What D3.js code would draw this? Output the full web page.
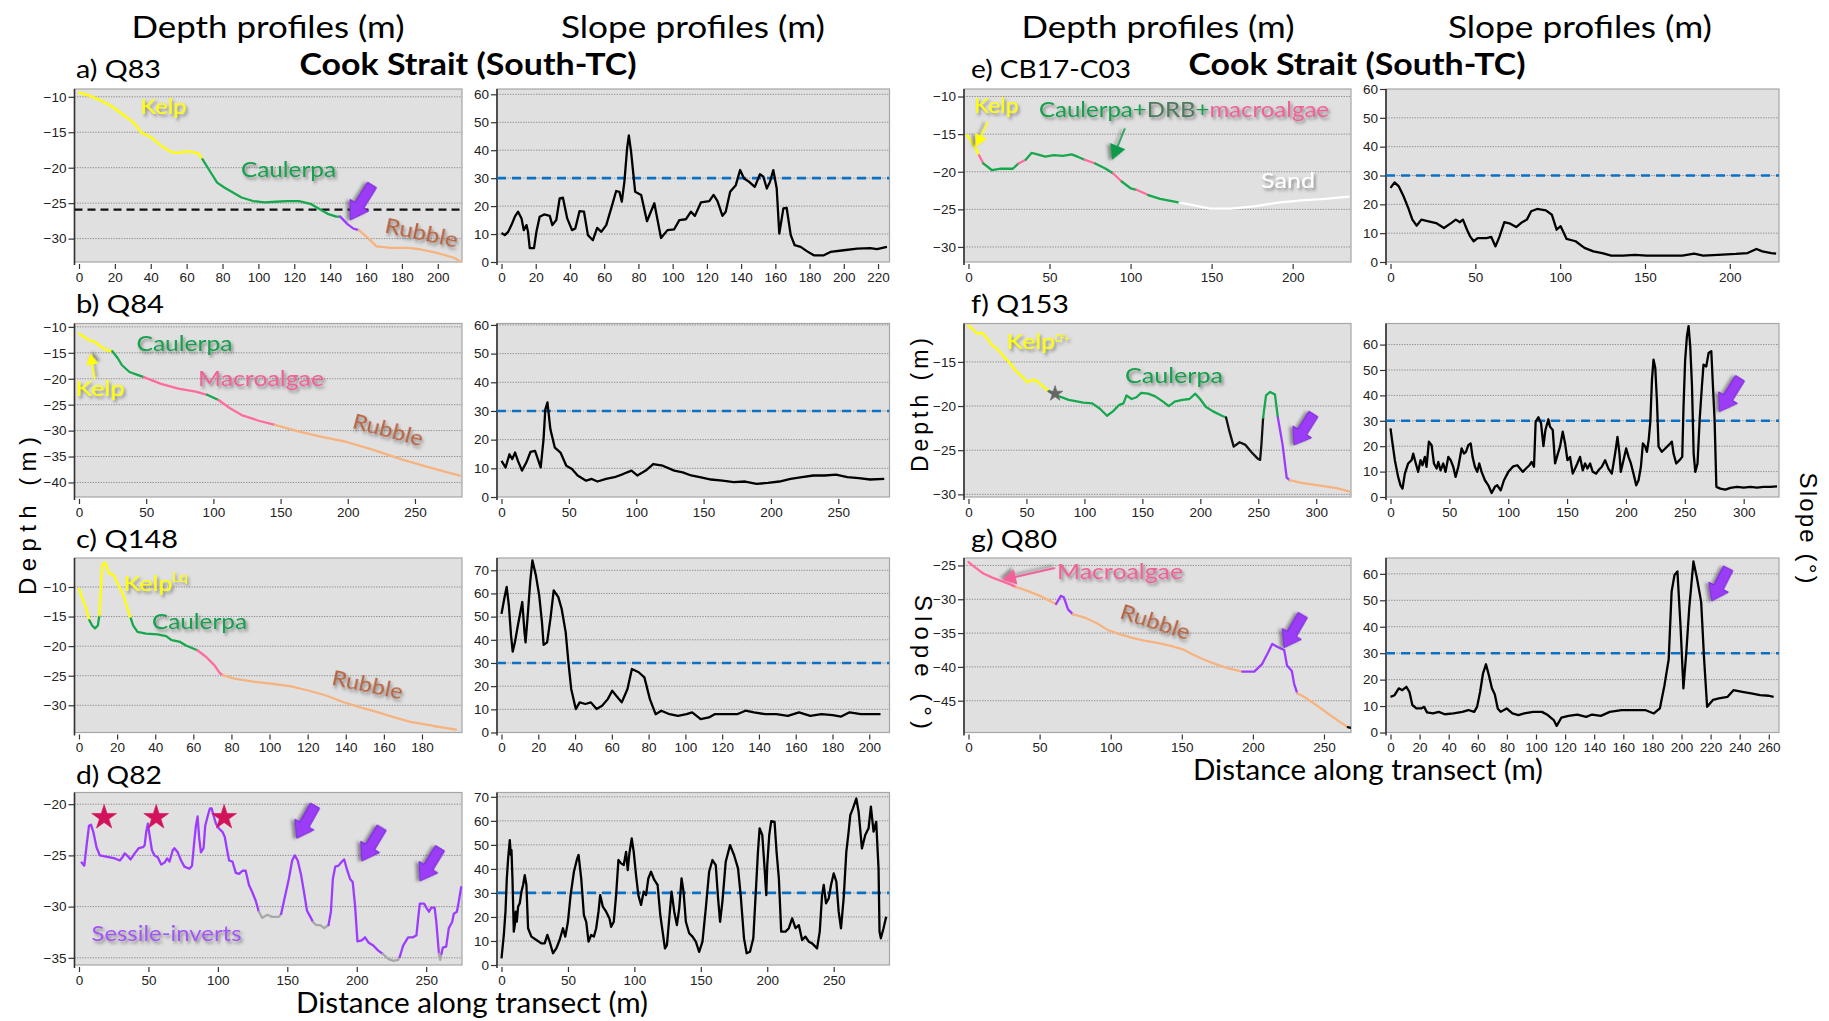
<!DOCTYPE html>
<html>
<head>
<meta charset="utf-8">
<script src="https://cdn.jsdelivr.net/npm/d3@7"></script>
<style>
  html, body { margin: 0; padding: 0; background: #ffffff; }
  svg { display: block; }
</style>
</head>
<body>
<svg id="chart" width="1829" height="1021"></svg>
<script>
// ===================== Depth profiles (distance m, depth m) =====================
// a) Q83
const a_kelp = [[0,-9.4],[4,-9.7],[7.4,-10],[12,-10.5],[18.6,-11.4],[25,-12.6],[29.8,-13.5],[32.3,-14.2],[34.6,-15],[40,-15.7],[45.8,-16.9],[50.6,-17.7],[53.8,-17.9],[58,-17.8],[61.8,-17.7],[66.6,-18],[68.8,-18.8]];
const a_caulerpa = [[68.8,-18.8],[73,-20.5],[77,-22.1],[81,-22.8],[85.8,-23.5],[90.6,-24.2],[97,-24.7],[103.4,-24.9],[109.8,-24.8],[116,-24.7],[122.6,-24.7],[129,-25.1],[133.8,-25.8],[138.6,-26.5],[143.4,-26.9],[145.6,-26.9]];
const a_inverts = [[145.6,-26.9],[149.8,-28],[153,-28.6],[156,-28.8]];
const a_rubble = [[156,-28.8],[161,-29.9],[165.8,-31.1],[173.8,-31.3],[183.4,-31.3],[189.8,-31.5],[199.4,-32],[209,-32.7],[213.8,-33.4]];
const a_threshold = -25.9;

// b) Q84
const b_kelp = [[0,-11.3],[3.4,-11.9],[7.7,-12.6],[12,-12.9],[16.2,-13.8],[20.5,-14.5],[24.8,-14.7]];
const b_caulerpa1 = [[24.8,-14.7],[29,-16.1],[32,-17.4],[37.6,-18.7],[44,-19.3],[48.3,-19.7]];
const b_macro1 = [[48.3,-19.7],[61,-21],[74,-21.9],[86.8,-22.5],[95.3,-23.1]];
const b_caulerpa2 = [[95.3,-23.1],[103.8,-24.1]];
const b_macro2 = [[103.8,-24.1],[112.4,-25.7],[121,-27],[133.8,-28.1],[145.7,-28.9]];
const b_rubble = [[145.7,-28.9],[163.7,-30.2],[180.8,-31.2],[197.9,-32.1],[219,-33.7],[240.6,-35.6],[261.9,-37.2],[283.3,-38.7]];

// c) Q148
const c_kelp1 = [[0,-10.3],[1.5,-11.7],[3.9,-13.7],[5.4,-15.6]];
const c_caulerpa1 = [[5.4,-15.6],[6.9,-16.5],[8.4,-17],[9.9,-16.5],[10.7,-14.8]];
const c_kelp2 = [[10.7,-14.8],[12.2,-6.3],[13.7,-5.9],[15.8,-7.7],[18.2,-8],[20.3,-9.4],[23.3,-11.4],[25.4,-13.6],[27.2,-15.3]];
const c_caulerpa2 = [[27.2,-15.3],[28.4,-16.5],[30.7,-17.6],[35.2,-17.9],[41.2,-18],[45.7,-18.3],[48.7,-19],[53.1,-19.3],[56.1,-19.9],[62.1,-20.7]];
const c_macro = [[62.1,-20.7],[66.6,-21.8],[71,-23.2],[74,-24.6],[75.5,-24.9]];
const c_rubble = [[75.5,-24.9],[81.5,-25.5],[87.5,-25.8],[93.4,-26.1],[102.4,-26.4],[111.3,-26.8],[120.3,-27.5],[129.3,-28.3],[138.2,-29.4],[147.2,-30.3],[156.1,-31.1],[165.1,-32],[174,-32.8],[186,-33.5],[197.9,-34.1]];

// d) Q82
const d_inv1 = [[1.9,-25.7],[3.8,-26],[5.5,-24],[7.2,-22.1],[8.6,-22],[10.3,-22.7],[12.6,-24.2],[15,-25],[18.6,-25.1],[22.2,-25.2],[25.8,-25.3],[29.4,-25.5],[31.7,-25.1],[32.9,-24.8],[35.3,-25.1],[37.2,-25.4],[40.1,-24.8],[43,-24.3],[46.1,-24.2],[47.3,-24],[48.4,-22.7],[49.6,-21.9],[50.8,-23],[52.5,-24.5],[54.4,-25],[56.8,-25.2],[59.2,-25.9],[61.6,-25.7],[63.5,-25.3],[65.2,-25.6],[67.5,-24.5],[68.7,-24.3],[71.1,-24.7],[73.5,-25.5],[75.9,-26.1],[79.5,-26.3],[81.4,-26],[83.1,-23.5],[84.2,-22.1],[85.4,-21.2],[86.6,-23.4],[87.8,-24.7],[89.7,-24.3],[90.9,-22.1],[92.6,-21.2],[94.3,-20.4],[95.5,-20.4],[96.9,-21.1],[98.6,-21.9],[101,-22.4],[103.3,-22.7],[105,-23.2],[106.4,-24.3],[108.1,-25.5],[110.5,-25.6],[112.9,-26.7],[115.3,-26.8],[117.7,-26.5],[120,-26.5],[122.4,-27.9],[124.8,-28.6],[127.2,-29.4],[129.5,-30.5]];
const d_bare1 = [[129.5,-30.5],[132,-31.1],[135.6,-30.8],[139.1,-31],[143.9,-31],[145.6,-30.7]];
const d_inv2 = [[145.6,-30.7],[148,-29.2],[151.1,-27.3],[153.5,-25.5],[155.4,-25],[157.5,-25.5],[159.9,-26.9],[161.8,-28.4],[164.2,-30.4],[166.6,-31],[168.5,-31.5]];
const d_bare2 = [[168.5,-31.5],[170.9,-31.8],[173.7,-31.8],[176.6,-32.1],[179.7,-31.8]];
const d_inv3 = [[179.7,-31.8],[181.4,-30.5],[182.8,-27.3],[184.5,-26.1],[186.9,-26],[189.3,-25.6],[191,-25.4],[192.8,-26.3],[195.2,-27.3],[197.1,-27.6],[198.8,-29.9],[200.5,-33.4],[203.6,-33.3],[206,-33],[208.4,-33.5],[211.9,-33.8],[215.5,-34.3],[218.6,-34.6]];
const d_bare3 = [[218.6,-34.6],[222.7,-35.1],[226.3,-35.3],[229.8,-35.2],[231,-34.9]];
const d_inv4 = [[231,-34.9],[233.4,-33.8],[237,-33],[240.6,-33],[243,-32.8],[244.2,-31.2],[245.4,-29.7],[248.5,-29.7],[250.1,-30.1],[252,-30.5],[253.7,-30.1],[256.1,-30.1],[257.3,-31.5],[259.2,-34.6]];
const d_bare4 = [[259.2,-34.6],[260.1,-35.2],[261,-34.6]];
const d_inv5 = [[261,-34.6],[262,-34],[264.4,-33.9],[266.3,-32.1],[268.7,-31.5],[269.9,-30.7],[272.1,-30.5],[273.5,-29.5],[275.2,-28.1]];
const d_stars = [[18.1,-21.3],[55.6,-21.3],[104.5,-21.3]];

// e) CB17-C03
const e_kelp = [[-1.1,-15.1],[2.5,-16.2],[5.5,-17.3],[6.5,-17.8]];
const e_macro1 = [[6.5,-17.8],[9.1,-18.9]];
const e_caulerpa1 = [[9.1,-18.9],[14.5,-19.8],[20,-19.6],[27.3,-19.6],[30.9,-18.9]];
const e_macro2 = [[30.9,-18.9],[35.3,-18.4]];
const e_caulerpa2 = [[35.3,-18.4],[38.9,-17.5],[42.5,-17.7],[47.3,-18],[52.7,-17.8],[58.2,-17.9],[63.6,-17.7],[67.3,-18],[71.6,-18.4]];
const e_macro3 = [[71.6,-18.4],[78.2,-18.9]];
const e_caulerpa3 = [[78.2,-18.9],[84.7,-19.6],[89.1,-20.2]];
const e_macro4 = [[89.1,-20.2],[94.5,-21.3]];
const e_caulerpa4 = [[94.5,-21.3],[100,-22.2],[103.6,-22.4]];
const e_macro5 = [[103.6,-22.4],[110.9,-23.1]];
const e_caulerpa5 = [[110.9,-23.1],[118.2,-23.6],[125.5,-23.9],[130.2,-24.1]];
const e_sand = [[130.2,-24.1],[140,-24.5],[149.1,-24.9],[161.8,-24.9],[176.4,-24.6],[190.9,-24.1],[205.5,-23.8],[220,-23.6],[234.5,-23.3]];

// f) Q153
const f_kelp = [[0,-10.9],[3.6,-11.3],[7.6,-11.8],[11.7,-11.7],[15.3,-12.2],[20.3,-13.1],[25.4,-13.6],[30.5,-14.4],[35.6,-15.1],[40.7,-16],[45.8,-16.6],[50.8,-17.3],[55.9,-17],[59.5,-17.2],[63.5,-17.7],[69.6,-18.3]];
const f_caulerpa1 = [[69.6,-18.3],[76.3,-18.8],[86.4,-19.3],[99.1,-19.6],[106.8,-19.7],[113.4,-20.3],[119.5,-21.1],[124.6,-20.6],[129.7,-19.9],[133.7,-19.7],[136.3,-18.8],[140.8,-19.2],[144.9,-19],[149,-18.5],[155,-18.6],[161.1,-18.9],[167.8,-19.5],[172.8,-20],[177.9,-19.5],[184.5,-19.3],[190.6,-19.2],[195.7,-18.6],[199.8,-19.2],[204.9,-20.1],[211,-20.6],[218.6,-21.1],[222.2,-21.3]];
const f_unclassed = [[222.2,-21.3],[225.2,-22.9],[228.8,-24.6],[233.9,-24.1],[239,-24.4],[244,-25.2],[249.1,-25.9],[251.6,-26.1],[252.7,-24.4],[254.2,-21.3]];
const f_caulerpa2 = [[254.2,-21.3],[256.7,-18.8],[260.3,-18.4],[264.4,-18.7],[266.9,-21.3]];
const f_inverts = [[266.9,-21.3],[271,-24.4],[274.5,-28.1],[277.1,-28.4]];
const f_rubble = [[277.1,-28.4],[287.2,-28.7],[297.4,-28.9],[307.6,-29.1],[317.7,-29.3],[328.9,-29.7]];
const f_star = [[74.7,-18.6]];

// g) Q80
const g_macro = [[0,-24.5],[4.2,-25.2],[10.5,-26.2],[16.8,-26.8],[23,-27.3],[29.3,-27.8],[33.5,-28.2]];
const g_rubble1 = [[33.5,-28.2],[41.9,-28.8],[50.3,-29.5],[58.6,-30.4],[61.6,-30.7]];
const g_inverts1 = [[61.6,-30.7],[64.9,-29.5],[67,-29.7],[70,-31.5],[73.3,-32.2]];
const g_rubble2 = [[73.3,-32.2],[81.7,-32.7],[90,-33.5],[98.4,-34.6],[106.8,-35.2],[115.2,-35.7],[123.5,-36.1],[131.9,-36.4],[142.4,-36.9],[150.8,-37.4],[157,-38.1],[165.4,-38.9],[173.8,-39.6],[182.2,-40.2],[192.6,-40.7]];
const g_inverts2 = [[192.6,-40.7],[201,-40.7],[206.4,-39.6],[210.6,-37.9],[213.6,-36.6],[217.8,-37.1],[222,-37.5],[224,-39.8],[227.4,-40.6],[229,-42.5],[231.2,-43.9]];
const g_rubble3 = [[231.2,-43.9],[236.6,-44.5],[245,-45.7],[253.4,-47],[261.7,-48.2],[266.8,-48.9]];
const g_unclassed = [[266.8,-48.9],[268.8,-49]];

// ===================== Slope profiles (distance m, slope deg) =====================
const a_slope = [[0,10.4],[1.9,9.6],[3.9,10.8],[5.8,13.2],[7.8,16.2],[9.7,18],[11.7,15.6],[13,11.4],[14.6,13.2],[15.5,10.8],[16.5,5],[19,5],[20.4,10.8],[22.3,16.2],[24.9,17],[28.2,16.5],[29.7,13.2],[32,15],[34,22.8],[35.9,23],[38.4,15.6],[41.2,11.4],[43.1,12],[45.6,18.2],[48.2,18],[50.5,9.6],[53.4,7.8],[55.9,12.2],[58.3,10.8],[61.2,13.2],[64.1,19.2],[67,25.4],[68.9,25.1],[70.3,21.6],[71.8,28.7],[73.4,40.7],[74.4,45.3],[75.7,39.5],[78.1,25.1],[81.6,24],[85,14.6],[89.3,21],[93.2,8.6],[97,11.4],[100.9,11.7],[103.9,15],[107.8,15.3],[110.7,18],[113,16.5],[116.5,21.3],[121.4,21.8],[123.9,24],[126.2,21.8],[129.1,16.5],[131,18],[133.6,25.1],[136.9,27.5],[139.4,32.9],[141.7,29.9],[144.7,28.7],[148,26.9],[151,31.4],[153,30.5],[155,26.3],[156.9,28.7],[158.8,32.9],[160.8,26.3],[162.3,10.2],[164.7,19.2],[166.6,19.4],[169,9.6],[171.3,6],[174.8,5.4],[178.6,3.8],[182.5,2.4],[188.3,2.4],[192.2,3.6],[200,4.2],[207.8,4.8],[215.5,5],[219.4,4.6],[225.2,5.4]];
const b_slope = [[0,12.6],[3,10.3],[5.9,14.9],[8,13.2],[10.1,15.5],[12.2,12.6],[15.2,9.2],[18.5,12.1],[21.5,15.7],[24.9,16.1],[27,13.2],[29.1,10.3],[31.2,20.1],[32.5,30.5],[34.1,33],[36.3,23.6],[39.6,17.2],[43.8,15.5],[48.1,10.9],[52.3,9.8],[56.5,7.5],[62.8,5.7],[67,6.3],[71.2,5.4],[77.6,6.3],[83.9,6.9],[90.2,8],[96.5,9.2],[100.8,7.5],[107.1,9.2],[112.6,11.5],[119.7,10.9],[128.2,9.2],[134.5,8.6],[140.8,7.5],[147.1,6.9],[155.6,6.1],[164,5.7],[172.4,5.2],[180.9,5.4],[189.3,4.6],[197.7,4.9],[206.2,5.4],[214.6,6.3],[223,6.9],[231.5,7.5],[239.9,7.5],[248.3,7.8],[256.7,6.9],[265.2,6.6],[273.6,6.1],[284.1,6.3]];
const c_slope = [[0,51.2],[1.5,57.7],[2.8,62.8],[4,54.8],[5.2,41.8],[6.1,34.9],[7.3,38.9],[8.9,46.2],[11.3,56.3],[12.5,43.3],[13.1,38.9],[14.4,51.9],[15.6,64.9],[16.8,74.3],[18.7,67.8],[20.5,59.2],[22,47.6],[22.9,37.8],[24.8,38.9],[26.6,49],[28.4,61.3],[30.9,58.4],[32.7,53.4],[34.9,43.3],[36.4,30.3],[37.9,18.8],[40.4,10.1],[42.5,13],[45.6,12.3],[48.6,13],[51.7,10.1],[54.7,11.5],[57.8,14.4],[60.2,18],[62.4,15.9],[65.4,13],[68.5,18.8],[70.9,27.4],[74.6,26],[77.7,23.8],[80.7,14.4],[83.8,7.9],[86.9,9.4],[91.4,7.9],[96,7.2],[100.6,7.9],[103.7,8.7],[108.3,5.8],[112.8,6.5],[115.9,7.9],[122,7.9],[128.1,7.9],[132.7,9.4],[137.3,8.7],[143.4,7.9],[149.5,7.9],[155.7,7.2],[161.8,8.7],[167.9,7.2],[174,7.9],[180.1,7.5],[184.7,6.9],[189.3,8.7],[195.4,7.9],[206.1,7.9]];
const d_slope = [[0,2.8],[0.75,6.9],[1.75,12.5],[3,22.2],[4,36],[5,44.4],[6.25,52],[7,45.8],[7.5,47.8],[8.25,36],[9.25,13.9],[10,16.6],[10.75,22.2],[11.5,18],[12.5,24.3],[13.75,25.7],[15,30.5],[16.25,33.3],[17.5,37.4],[18.75,33.3],[20,15.3],[22.5,11.8],[26.25,10.4],[30,9],[32.5,9],[34.5,12.5],[36.25,9.7],[38.75,4.9],[41.25,6.9],[43.75,10.4],[46.25,15.3],[48,11.8],[50,18],[52,29.1],[54.5,38.8],[57,44.4],[58,45.8],[60,36],[62,20.8],[63.75,18],[65.5,9.7],[67.5,12.5],[69.5,11.8],[71.25,15.3],[73,22.2],[74.25,29.1],[76.25,24.3],[78.75,22.2],[81.25,19.4],[82.5,15.9],[84.5,18],[86.25,29.1],[88,43.7],[90,42.3],[92,41.6],[93.75,47.1],[95,39.5],[96.25,46.5],[98,52.7],[99.5,47.1],[101.25,37.4],[103,29.1],[105,25],[107,30.5],[108.75,29.1],[110.5,36],[112.5,38.8],[115,35.4],[117.5,33.3],[119.5,20.8],[121.25,13.9],[123,6.9],[124.5,8.3],[126.25,19.4],[128,30.5],[130,22.2],[132,16.6],[133.75,23.6],[135.5,36],[137,30.5],[138.75,18],[141.25,13.2],[143.75,11.8],[146.25,9.7],[148.75,5.5],[151.25,9.7],[153.75,23.6],[156.25,38.8],[158.75,43.7],[161.25,41.6],[163,27.7],[164.5,18],[166.25,26.4],[168.75,43],[172,49.9],[175,45.8],[178,40.2],[180,29.1],[182.5,11.1],[184.5,4.9],[187,5.5],[189.5,11.1],[191.25,29.1],[193,47.1],[194.25,56.9],[196.25,54.1],[198,40.2],[199.25,29.1],[200,41.6],[201.5,54.1],[203,59.9],[205.5,59.6],[207,47.1],[208.75,36],[210.5,13.9],[213.75,13.9],[216.25,15.3],[218.75,19.4],[221.25,15.3],[223.75,16.6],[226.25,10.4],[228.75,11.8],[231.25,9.7],[233.75,9],[237.5,6.9],[239.5,13.9],[241.25,29.1],[242.5,33.3],[244.25,25.7],[246.25,27.7],[248,33.3],[250,38.1],[252,34.7],[253.75,22.2],[255.5,15.3],[257.5,27.7],[259.5,47.1],[261.25,55.5],[262.5,62.4],[264.5,65.2],[267,69.3],[268.75,63.8],[271.25,48.5],[273.75,54.1],[276.25,56.9],[278,65.9],[280,55.5],[282,59.6],[283.75,40.2],[284.5,13.9],[285.5,11.1],[287.5,15.3],[289.5,20.1]];
const e_slope = [[0,25.7],[2.4,27.6],[4.9,26.2],[7.7,22.8],[10.5,18.7],[12.9,14.7],[15.4,12.6],[18.2,14.7],[22.4,14.1],[26.9,13.5],[31.5,11.8],[35.7,13.5],[38.5,14.7],[40.9,13.8],[42.7,14.7],[45.1,11.2],[46.9,8.9],[49,7.2],[51.4,8.3],[56.6,8.3],[59.4,8.7],[61.9,5.4],[64.3,8.9],[67.1,13.8],[70.6,13.3],[74.1,12.1],[77.6,13.8],[80.4,14.7],[82.9,17.6],[86.4,18.4],[91.6,17.9],[95.1,16.4],[97.9,11.2],[100.3,12.4],[103.8,8],[109.1,7.2],[114.3,4.9],[119.6,3.7],[124.8,3.1],[130.1,2.2],[137.1,2.2],[144.1,2.5],[151,2.2],[161.5,2.2],[172,2.2],[179,2.9],[184.3,2.2],[193,2.5],[203.5,2.8],[210.5,3.1],[215.7,4.5],[219.2,3.7],[224.5,3.1],[227.3,2.9]];
const f_slope = [[0,27],[1.7,21.1],[3.7,14.5],[6.5,7.9],[8.5,4.6],[10.2,3.3],[12.2,9.2],[15,13.2],[17.9,14.5],[19.3,17.1],[21.5,13.2],[23.5,9.9],[25.5,14.5],[27.2,12.5],[29.2,15.8],[30.6,11.9],[32.6,21.8],[34.9,20.4],[36.9,13.2],[39.2,11.2],[40.6,13.8],[42.5,10.5],[44.8,13.2],[46.8,9.9],[49.1,15.8],[51.1,14.5],[53.3,11.9],[55.3,7.9],[57.6,11.9],[60.4,19.1],[62.4,17.1],[64.1,17.8],[66.1,20.4],[68.1,21.1],[69.7,15.8],[71.7,11.9],[73.7,9.9],[75.4,13.2],[77.4,9.9],[80.2,6.6],[83.1,4.6],[85.9,1.6],[88.7,4],[90.7,4.6],[93.6,2.6],[96.4,6.6],[100.1,9.9],[104.3,12.1],[107.7,12.5],[110,11.2],[112.3,9.9],[115.1,11.2],[118,12.5],[119.9,13.8],[121.9,11.9],[123.3,29.7],[125.6,31.4],[127.9,29],[129.9,20],[131.6,26.4],[134.1,30.6],[135.5,27.7],[137.8,26.4],[139.8,13.2],[141.8,16.5],[144,19.8],[146.3,25.7],[148.3,21.1],[150.3,14.5],[152.5,15.8],[154.8,9.2],[156.8,11.2],[158.7,13.2],[161,15.8],[163.3,10.5],[165.3,13.2],[167.3,11.2],[169.5,13.2],[171.8,9.9],[174.7,9.2],[176.6,10.5],[179.5,11.9],[182.3,14.5],[185.1,11.2],[188,9.2],[190.8,17.1],[192.8,23.7],[194.5,17.1],[195.6,9.9],[197.9,14.5],[200.2,19.1],[202.2,15.8],[204.2,13.2],[206.4,9.2],[208.7,4.6],[210.7,6.6],[212.7,11.9],[214.4,21.1],[216.4,19.8],[217.8,17.8],[219.3,22.4],[220.7,29.7],[222.1,46.2],[223.4,54.1],[224.9,50.8],[226.3,38.2],[227.7,19.8],[230.5,17.8],[233.4,19.1],[236.2,20.4],[239,21.8],[240.4,17.1],[242.7,13.2],[245.5,14.5],[247.8,15.8],[248.9,35.6],[250.3,54.1],[251.8,63.3],[253.2,67.3],[254.6,59.3],[256.1,43.5],[257.5,17.1],[258.9,9.9],[260.8,13.2],[262.6,30.3],[264.5,43.5],[265.9,52.1],[268.2,51.4],[270.2,56.7],[272.5,57.4],[273.9,43.5],[275.3,30.3],[276.2,14.5],[276.8,4],[280.2,3.3],[284.4,2.9],[288.7,3.6],[294.4,4],[300,3.7],[305.6,4],[311.3,3.7],[317,4],[322.6,4],[328.3,4.2]];
const g_slope = [[0,13.5],[2.8,14.1],[5.7,16.7],[8.1,16],[10.9,17.3],[13,15.4],[15,10.4],[17.8,9.1],[21.1,9.1],[23.1,9.7],[25.1,7.6],[29.2,7.2],[33.2,7.8],[37.3,6.9],[43.3,7.2],[49.4,7.8],[53.5,8.5],[57.5,7.8],[59.5,9.7],[61.6,15.4],[63.6,22.4],[65.6,25.8],[67.6,21.7],[69.7,16.7],[71.7,14.4],[73.7,9.1],[75.7,7.8],[79.8,9.1],[83.8,7.2],[87.9,6.6],[91.9,7.2],[98,7.8],[104.1,7.8],[108.1,6.6],[112.2,4.7],[114.2,2.5],[117.4,5.6],[122.3,6.3],[128.4,6.8],[134.5,5.9],[138.5,6.8],[144.6,6.3],[150.7,7.8],[158.8,8.5],[166.9,8.5],[175,8.5],[181,7.2],[185.1,9.1],[188.3,17.9],[191.2,27.7],[193.2,53.3],[195.2,59.6],[197.2,60.9],[199.3,40.5],[201.3,16.7],[203.3,30.3],[205.3,47],[208.2,64.7],[210.6,58.4],[213.5,49.4],[215.5,28],[217.6,9.7],[221.6,12.3],[225.6,12.9],[231.7,13.5],[235.7,16],[241.8,15.4],[247.9,14.8],[254,14.1],[260,13.9],[263.3,13.5]];
const slopeThreshold = 30;

// ===================== Tick values =====================
const a_depthXTicks = [0,20,40,60,80,100,120,140,160,180,200];
const a_slopeXTicks = [0,20,40,60,80,100,120,140,160,180,200,220];
const b_depthXTicks = [0,50,100,150,200,250];
const b_slopeXTicks = [0,50,100,150,200,250];
const c_depthXTicks = [0,20,40,60,80,100,120,140,160,180];
const c_slopeXTicks = [0,20,40,60,80,100,120,140,160,180,200];
const d_depthXTicks = [0,50,100,150,200,250];
const d_slopeXTicks = [0,50,100,150,200,250];
const e_depthXTicks = [0,50,100,150,200];
const e_slopeXTicks = [0,50,100,150,200];
const f_depthXTicks = [0,50,100,150,200,250,300];
const f_slopeXTicks = [0,50,100,150,200,250,300];
const g_depthXTicks = [0,50,100,150,200,250];
const g_slopeXTicks = [0,20,40,60,80,100,120,140,160,180,200,220,240,260];
const a_depthYTicks = [-10,-15,-20,-25,-30];
const b_depthYTicks = [-10,-15,-20,-25,-30,-35,-40];
const c_depthYTicks = [-10,-15,-20,-25,-30];
const d_depthYTicks = [-20,-25,-30,-35];
const e_depthYTicks = [-10,-15,-20,-25,-30];
const f_depthYTicks = [-15,-20,-25,-30];
const g_depthYTicks = [-25,-30,-35,-40,-45];
const slopeYTicks60 = [0,10,20,30,40,50,60];
const slopeYTicks70 = [0,10,20,30,40,50,60,70];

// ===================== Styles =====================
const HAB = {
  kelp: '#ffff00', caulerpa: '#16a84c', macro: '#ff6b9e', rubble: '#f7b37f',
  inverts: '#9d3cff', sand: '#ffffff', bare: '#a8a8a8', none: '#111111'
};
const LABEL_FONT = 'Lato, "Open Sans", "Liberation Sans", sans-serif';
const TICK_FONT = '"Liberation Sans", Arial, sans-serif';

const svg = d3.select('#chart');
const defs = svg.append('defs');
const sh = defs.append('filter').attr('id', 'shadow').attr('x', '-20%').attr('y', '-30%').attr('width', '150%').attr('height', '180%');
sh.append('feDropShadow').attr('dx', 2).attr('dy', 2.5).attr('stdDeviation', 1.6).attr('flood-color', '#404040').attr('flood-opacity', 0.55);

// Column extents (plot box left/right) and row extents (top/bottom)
const COL = { Ld: [74.5, 462], Ls: [497, 889.5], Rd: [964, 1351], Rs: [1386, 1779] };
const ROW = [[89, 262], [323.5, 497], [558, 732.5], [792.5, 965]];

function text(g, s, x, y, o = {}) {
  const t = g.append('text').attr('x', x).attr('y', y)
    .attr('font-family', o.family || LABEL_FONT)
    .attr('font-size', o.size || 20)
    .attr('font-weight', o.weight || 'normal')
    .attr('fill', o.fill || '#000')
    .attr('text-anchor', o.anchor || 'start');
  if (s !== null) t.text(s);
  if (o.len) t.attr('textLength', o.len).attr('lengthAdjust', 'spacingAndGlyphs');
  if (o.rotate) t.attr('transform', `rotate(${o.rotate},${x},${y})`);
  if (o.shadow) t.attr('filter', 'url(#shadow)');
  return t;
}

function blockArrow(g, tail, tip) {
  const dx = tip[0] - tail[0], dy = tip[1] - tail[1];
  const L = Math.hypot(dx, dy), ang = Math.atan2(dy, dx) * 180 / Math.PI;
  const hl = L * 0.42, hw = 11, sw = 5.2;
  const pts = [[0, 0], [-hl, -hw], [-hl, -sw], [-L, -sw], [-L, sw], [-hl, sw], [-hl, hw]];
  g.append('polygon')
    .attr('points', pts.map(p => p.join(',')).join(' '))
    .attr('transform', `translate(${tip[0]},${tip[1]}) rotate(${ang})`)
    .attr('fill', '#9b3cf6').attr('stroke', '#7a22d6').attr('stroke-width', 1)
    .attr('filter', 'url(#shadow)');
}

function lineArrow(g, tail, tip, color, head, width) {
  const dx = tip[0] - tail[0], dy = tip[1] - tail[1];
  const L = Math.hypot(dx, dy), ang = Math.atan2(dy, dx) * 180 / Math.PI;
  const a = g.append('g').attr('transform', `translate(${tip[0]},${tip[1]}) rotate(${ang})`).attr('filter', 'url(#shadow)');
  a.append('line').attr('x1', -L).attr('y1', 0).attr('x2', -head * 0.8).attr('y2', 0)
    .attr('stroke', color).attr('stroke-width', width);
  a.append('polygon').attr('points', `0,0 ${-head},${-head * 0.55} ${-head},${head * 0.55}`).attr('fill', color);
}

let clipId = 0;
function panel(col, row, o) {
  const [x0, x1] = COL[col], [y0, y1] = ROW[row];
  const x = d3.scaleLinear().domain([0, o.xEnd]).range([x0 + 4.5, x1]);
  const y = d3.scaleLinear().domain(o.yDom).range([y1, y0]);
  const g = svg.append('g');
  g.append('rect').attr('x', x0).attr('y', y0).attr('width', x1 - x0).attr('height', y1 - y0)
    .attr('fill', '#e0e0e0').attr('stroke', '#a6a6a6').attr('stroke-width', 1.2);

  // horizontal dotted grid
  g.append('g').selectAll('line')
    .data(o.yTicks.filter(t => y(t) > y0 + 1 && y(t) < y1 - 1))
    .join('line')
    .attr('x1', x0).attr('x2', x1).attr('y1', d => y(d)).attr('y2', d => y(d))
    .attr('stroke', '#8c8c8c').attr('stroke-width', 1).attr('stroke-dasharray', '1.3,1.3');

  // axes
  const ax = g.append('g').attr('transform', `translate(0,${y1 + 2})`)
    .call(d3.axisBottom(x).tickValues(o.xTicks).tickSize(5).tickPadding(3).tickFormat(d3.format('d')));
  ax.select('.domain').remove();
  ax.selectAll('line').attr('stroke', '#333').attr('stroke-width', 1.2);
  ax.selectAll('text').attr('font-family', TICK_FONT).attr('font-size', 13.5).attr('fill', '#222');

  const ay = g.append('g').attr('transform', `translate(${x0},0)`)
    .call(d3.axisLeft(y).tickValues(o.yTicks).tickSize(6).tickPadding(2).tickFormat(d3.format('d')));
  ay.select('.domain').remove();
  ay.selectAll('line').attr('stroke', '#333').attr('stroke-width', 1.2);
  ay.selectAll('text').attr('font-family', TICK_FONT).attr('font-size', 13.5).attr('fill', '#222');
  g.append('line').attr('x1', x0).attr('x2', x0).attr('y1', y0).attr('y2', y1 + 3)
    .attr('stroke', '#333').attr('stroke-width', 1.6);

  const id = 'clip' + (clipId++);
  defs.append('clipPath').attr('id', id).append('rect')
    .attr('x', x0).attr('y', y0).attr('width', x1 - x0).attr('height', y1 - y0);
  const plot = g.append('g').attr('clip-path', `url(#${id})`);
  return { g, plot, x, y, x0, x1, y0, y1 };
}

const line = (p) => d3.line().x(d => p.x(d[0])).y(d => p.y(d[1]));

function depthPanel(col, row, o) {
  const p = panel(col, row, o);
  if (o.threshold !== undefined) {
    p.plot.append('line').attr('x1', p.x0).attr('x2', p.x1)
      .attr('y1', p.y(o.threshold)).attr('y2', p.y(o.threshold))
      .attr('stroke', '#111').attr('stroke-width', 2.2).attr('stroke-dasharray', '8,5');
  }
  p.plot.selectAll('path.seg').data(o.segs).join('path').attr('class', 'seg')
    .attr('d', d => line(p)(d[0]))
    .attr('fill', 'none').attr('stroke', d => HAB[d[1]])
    .attr('stroke-width', 2.3).attr('stroke-linejoin', 'round').attr('stroke-linecap', 'round');
  return p;
}

function slopePanel(col, row, o) {
  const p = panel(col, row, o);
  p.plot.append('line').attr('x1', p.x0).attr('x2', p.x1)
    .attr('y1', p.y(slopeThreshold)).attr('y2', p.y(slopeThreshold))
    .attr('stroke', '#0a72c6').attr('stroke-width', 2.6).attr('stroke-dasharray', '9,6');
  p.plot.append('path').datum(o.data).attr('d', line(p))
    .attr('fill', 'none').attr('stroke', '#000').attr('stroke-width', 2.3).attr('stroke-linejoin', 'round');
  return p;
}

function stars(p, pts, size, color) {
  p.g.selectAll(null).data(pts).join('path')
    .attr('d', d3.symbol().type(d3.symbolStar).size(size))
    .attr('transform', d => `translate(${p.x(d[0])},${p.y(d[1])})`)
    .attr('fill', color).attr('stroke', color).attr('stroke-width', 0.6);
}

// ---------- a) Q83 ----------
const pa = depthPanel('Ld', 0, { xEnd: 213.5, yDom: [-33.3, -8.9], xTicks: a_depthXTicks, yTicks: a_depthYTicks, threshold: a_threshold,
  segs: [[a_kelp, 'kelp'], [a_caulerpa, 'caulerpa'], [a_inverts, 'inverts'], [a_rubble, 'rubble']] });
text(pa.g, 'Kelp', pa.x0 + 66, pa.y0 + 25, { size: 21, fill: '#ffff00', len: 46, shadow: true });
text(pa.g, 'Caulerpa', pa.x0 + 166.5, pa.y0 + 88, { size: 22, fill: '#12a04c', len: 95, shadow: true });
text(pa.g, 'Rubble', pa.x0 + 345.5, pa.y0 + 151, { size: 22, fill: '#b5603c', len: 74, anchor: 'middle', rotate: 12, shadow: true });
blockArrow(pa.g, [pa.x0 + 297.5, pa.y0 + 96], [pa.x0 + 275.7, pa.y0 + 131]);
slopePanel('Ls', 0, { xEnd: 226.7, yDom: [0, 61.9], xTicks: a_slopeXTicks, yTicks: slopeYTicks60, data: a_slope });

// ---------- b) Q84 ----------
const pb = depthPanel('Ld', 1, { xEnd: 285, yDom: [-42.8, -9.35], xTicks: b_depthXTicks, yTicks: b_depthYTicks,
  segs: [[b_kelp, 'kelp'], [b_caulerpa1, 'caulerpa'], [b_macro1, 'macro'], [b_caulerpa2, 'caulerpa'], [b_macro2, 'macro'], [b_rubble, 'rubble']] });
text(pb.g, 'Caulerpa', pb.x0 + 62, pb.y0 + 27.5, { size: 22, fill: '#12a04c', len: 96, shadow: true });
text(pb.g, 'Kelp', pb.x0 + 1, pb.y0 + 72.5, { size: 21, fill: '#ffff00', len: 49, shadow: true });
lineArrow(pb.g, [pb.x0 + 20, pb.y0 + 56], [pb.x0 + 16, pb.y0 + 30], '#ffff00', 11, 1.8);
text(pb.g, 'Macroalgae', pb.x0 + 123.5, pb.y0 + 62.5, { size: 22, fill: '#f2609a', len: 126, shadow: true });
text(pb.g, 'Rubble', pb.x0 + 311.5, pb.y0 + 114, { size: 22, fill: '#b5603c', len: 72, anchor: 'middle', rotate: 15, shadow: true });
slopePanel('Ls', 1, { xEnd: 288, yDom: [0, 60.5], xTicks: b_slopeXTicks, yTicks: slopeYTicks60, data: b_slope });

// ---------- c) Q148 ----------
const pc = depthPanel('Ld', 2, { xEnd: 201, yDom: [-34.6, -5.1], xTicks: c_depthXTicks, yTicks: c_depthYTicks,
  segs: [[c_kelp1, 'kelp'], [c_caulerpa1, 'caulerpa'], [c_kelp2, 'kelp'], [c_caulerpa2, 'caulerpa'], [c_macro, 'macro'], [c_rubble, 'rubble']] });
text(pc.g, 'Kelp', pc.x0 + 49, pc.y0 + 33, { size: 21, fill: '#ffff00', len: 49, shadow: true });
text(pc.g, 'Lq', pc.x0 + 97.5, pc.y0 + 24, { size: 13, fill: '#ffff00', len: 16, shadow: true });
text(pc.g, 'Caulerpa', pc.x0 + 77.5, pc.y0 + 71, { size: 22, fill: '#12a04c', len: 95, shadow: true });
text(pc.g, 'Rubble', pc.x0 + 291.5, pc.y0 + 134, { size: 22, fill: '#b5603c', len: 72, anchor: 'middle', rotate: 12, shadow: true });
slopePanel('Ls', 2, { xEnd: 211, yDom: [0, 75.3], xTicks: c_slopeXTicks, yTicks: slopeYTicks70, data: c_slope });

// ---------- d) Q82 ----------
const pd = depthPanel('Ld', 3, { xEnd: 275.8, yDom: [-35.7, -18.86], xTicks: d_depthXTicks, yTicks: d_depthYTicks,
  segs: [[d_inv1, 'inverts'], [d_bare1, 'bare'], [d_inv2, 'inverts'], [d_bare2, 'bare'], [d_inv3, 'inverts'], [d_bare3, 'bare'], [d_inv4, 'inverts'], [d_bare4, 'bare'], [d_inv5, 'inverts']] });
stars(pd, d_stars, 190, '#d3125c');
text(pd.g, 'Sessile-inverts', pd.x0 + 17, pd.y0 + 148.5, { size: 22, fill: '#a356f5', len: 150, shadow: true });
blockArrow(pd.g, [pd.x0 + 240.5, pd.y0 + 13.2], [pd.x0 + 222.2, pd.y0 + 45.8]);
blockArrow(pd.g, [pd.x0 + 307.2, pd.y0 + 35.2], [pd.x0 + 287.2, pd.y0 + 68.5]);
blockArrow(pd.g, [pd.x0 + 365.5, pd.y0 + 55.8], [pd.x0 + 345.5, pd.y0 + 88.5]);
slopePanel('Ls', 3, { xEnd: 292, yDom: [0, 71.8], xTicks: d_slopeXTicks, yTicks: slopeYTicks70, data: d_slope });

// ---------- e) CB17-C03 ----------
const pe = depthPanel('Rd', 0, { xEnd: 236, yDom: [-32, -9], xTicks: e_depthXTicks, yTicks: e_depthYTicks,
  segs: [[e_kelp, 'kelp'], [e_macro1, 'macro'], [e_caulerpa1, 'caulerpa'], [e_macro2, 'macro'], [e_caulerpa2, 'caulerpa'], [e_macro3, 'macro'], [e_caulerpa3, 'caulerpa'], [e_macro4, 'macro'], [e_caulerpa4, 'caulerpa'], [e_macro5, 'macro'], [e_caulerpa5, 'caulerpa'], [e_sand, 'sand']] });
text(pe.g, 'Kelp', pe.x0 + 10, pe.y0 + 24, { size: 21, fill: '#ffff00', len: 44.5, shadow: true });
lineArrow(pe.g, [pe.x0 + 23.7, pe.y0 + 32.7], [pe.x0 + 11.8, pe.y0 + 57.7], '#ffff00', 12, 1.8);
const ecd = text(pe.g, null, pe.x0 + 75, pe.y0 + 28, { size: 22, len: 290, shadow: true });
ecd.append('tspan').attr('fill', '#12a04c').text('Caulerpa+');
ecd.append('tspan').attr('fill', '#4f7a5c').text('DRB');
ecd.append('tspan').attr('fill', '#12a04c').text('+');
ecd.append('tspan').attr('fill', '#f2609a').text('macroalgae');
lineArrow(pe.g, [pe.x0 + 161, pe.y0 + 39.3], [pe.x0 + 148, pe.y0 + 71], '#0f9a48', 15, 1.6);
text(pe.g, 'Sand', pe.x0 + 297, pe.y0 + 99, { size: 21, fill: '#ffffff', len: 54, shadow: true });
slopePanel('Rs', 0, { xEnd: 229, yDom: [0, 60], xTicks: e_slopeXTicks, yTicks: slopeYTicks60, data: e_slope });

// ---------- f) Q153 ----------
const pf = depthPanel('Rd', 1, { xEnd: 330, yDom: [-30.3, -10.65], xTicks: f_depthXTicks, yTicks: f_depthYTicks,
  segs: [[f_kelp, 'kelp'], [f_caulerpa1, 'caulerpa'], [f_unclassed, 'none'], [f_caulerpa2, 'caulerpa'], [f_inverts, 'inverts'], [f_rubble, 'rubble']] });
stars(pf, f_star, 75, '#666666');
text(pf.g, 'Kelp', pf.x0 + 42.6, pf.y0 + 25.5, { size: 21, fill: '#ffff00', len: 48.5, shadow: true });
text(pf.g, 'CF+', pf.x0 + 91, pf.y0 + 18, { size: 11, fill: '#ffff00', len: 14, shadow: true });
text(pf.g, 'Caulerpa', pf.x0 + 161, pf.y0 + 59.5, { size: 22, fill: '#12a04c', len: 98, shadow: true });
blockArrow(pf.g, [pf.x0 + 349.5, pf.y0 + 90.5], [pf.x0 + 330, pf.y0 + 121.5]);
const pfs = slopePanel('Rs', 1, { xEnd: 330, yDom: [0, 68.3], xTicks: f_slopeXTicks, yTicks: slopeYTicks60, data: f_slope });
blockArrow(pfs.g, [pfs.x0 + 354, pfs.y0 + 54.8], [pfs.x0 + 333.3, pfs.y0 + 88.2]);

// ---------- g) Q80 ----------
const pg = depthPanel('Rd', 2, { xEnd: 269, yDom: [-49.7, -23.9], xTicks: g_depthXTicks, yTicks: g_depthYTicks,
  segs: [[g_macro, 'macro'], [g_rubble1, 'rubble'], [g_inverts1, 'inverts'], [g_rubble2, 'rubble'], [g_inverts2, 'inverts'], [g_rubble3, 'rubble'], [g_unclassed, 'none']] });
text(pg.g, 'Macroalgae', pg.x0 + 93, pg.y0 + 21, { size: 22, fill: '#f2609a', len: 126, shadow: true });
lineArrow(pg.g, [pg.x0 + 91, pg.y0 + 10], [pg.x0 + 38, pg.y0 + 22], '#f2609a', 14, 2);
text(pg.g, 'Rubble', pg.x0 + 189, pg.y0 + 71, { size: 22, fill: '#b5603c', len: 72, anchor: 'middle', rotate: 18, shadow: true });
blockArrow(pg.g, [pg.x0 + 338.8, pg.y0 + 57], [pg.x0 + 319.9, pg.y0 + 89.7]);
const pgs = slopePanel('Rs', 2, { xEnd: 267, yDom: [0, 66], xTicks: g_slopeXTicks, yTicks: slopeYTicks60, data: g_slope });
blockArrow(pgs.g, [pgs.x0 + 342.2, pgs.y0 + 10.3], [pgs.x0 + 325.6, pgs.y0 + 43]);

// ---------- panel captions ----------
const T = svg.append('g');
text(T, 'a) Q83', 76, 78, { size: 25, len: 85 });
text(T, 'b) Q84', 76, 313, { size: 25, len: 88 });
text(T, 'c) Q148', 76, 548, { size: 25, len: 102 });
text(T, 'd) Q82', 76, 784, { size: 25, len: 86 });
text(T, 'e) CB17-C03', 971, 78, { size: 25, len: 160 });
text(T, 'f) Q153', 971, 313, { size: 25, len: 98 });
text(T, 'g) Q80', 971, 548, { size: 25, len: 86 });

// ---------- headings ----------
text(T, 'Depth profiles (m)', 268, 38, { size: 31, anchor: 'middle', len: 273 });
text(T, 'Slope profiles (m)', 693, 38, { size: 31, anchor: 'middle', len: 264 });
text(T, 'Cook Strait (South-TC)', 468, 75, { size: 31, weight: 'bold', anchor: 'middle', len: 337 });
text(T, 'Depth profiles (m)', 1158, 38, { size: 31, anchor: 'middle', len: 273 });
text(T, 'Slope profiles (m)', 1580, 38, { size: 31, anchor: 'middle', len: 264 });
text(T, 'Cook Strait (South-TC)', 1357, 75, { size: 31, weight: 'bold', anchor: 'middle', len: 337 });

// ---------- axis titles ----------
text(T, 'Distance along transect (m)', 472, 1013, { size: 28, anchor: 'middle', len: 352 });
text(T, 'Distance along transect (m)', 1368, 780, { size: 28, anchor: 'middle', len: 350 });
T.append('text').attr('transform', 'translate(36,516) rotate(-90)').attr('text-anchor', 'middle')
  .attr('font-family', TICK_FONT).attr('font-size', 24).attr('textLength', 158).attr('lengthAdjust', 'spacing').text('Depth (m)');
T.append('text').attr('transform', 'translate(928,405) rotate(-90)').attr('text-anchor', 'middle')
  .attr('font-family', TICK_FONT).attr('font-size', 23).attr('textLength', 134).attr('lengthAdjust', 'spacing').text('Depth (m)');
T.append('text').attr('transform', 'translate(915,662) rotate(90)').attr('text-anchor', 'middle')
  .attr('font-family', TICK_FONT).attr('font-size', 24).attr('textLength', 134).attr('lengthAdjust', 'spacing').text('Slope (°)');
T.append('text').attr('transform', 'translate(1800,528) rotate(90)').attr('text-anchor', 'middle')
  .attr('font-family', TICK_FONT).attr('font-size', 24).attr('textLength', 111).attr('lengthAdjust', 'spacing').text('Slope (°)');
</script>
</body>
</html>
